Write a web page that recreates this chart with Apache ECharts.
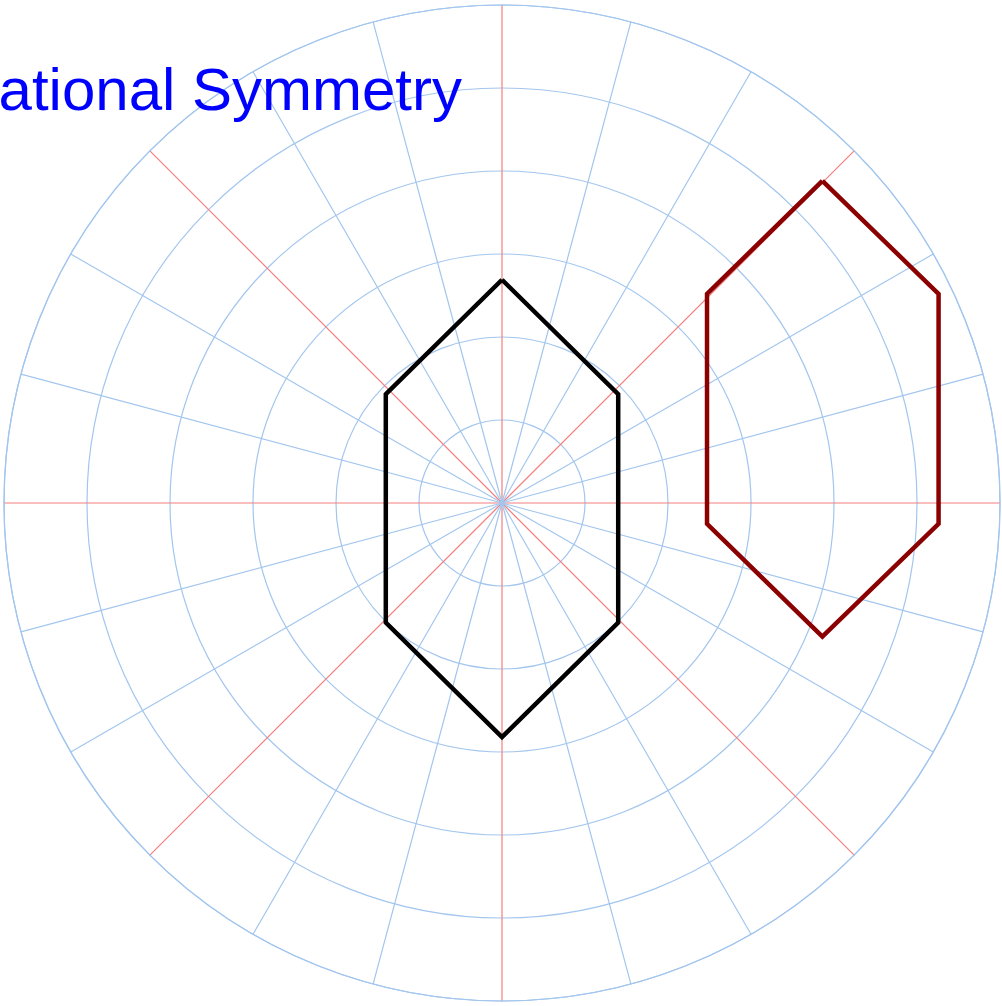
<!DOCTYPE html>
<html>
<head>
<meta charset="utf-8">
<title>Rotational Symmetry</title>
<script src="https://cdn.jsdelivr.net/npm/echarts@6/dist/echarts.min.js"></script>
<style>
  html, body { margin: 0; padding: 0; background: #fff; }
  #chart { width: 1002px; height: 1006px; }
</style>
</head>
<body>
<div id="chart"></div>
<script>
// polar grid: spokes every 15 deg, every 3rd one (45 deg) red, 6 rings
var spokeStep = 15
var spokeColors = ['#f47f7f', '#a3c6ee', '#a3c6ee']
var ringMax = 6

// hexagon vertices, in ring units (centre of the polar grid = 0,0)
var blackX = [0, 1.40, 1.40, 0, -1.40, -1.40, 0]
var blackY = [2.69, 1.31, -1.44, -2.82, -1.44, 1.31, 2.69]
var redX = [3.86, 5.26, 5.26, 3.86, 2.47, 2.47, 3.86]
var redY = [3.88, 2.52, -0.25, -1.61, -0.25, 2.52, 3.88]

var titleText = 'Rotational Symmetry'

var gridBlue = '#a3c6ee'

function pairs(xs, ys) {
  return xs.map(function (x, i) { return [x, ys[i]] })
}

var cx = 502, cy = 503, R = 498

var chart = echarts.init(document.getElementById('chart'))
chart.setOption({
  animation: false,
  backgroundColor: '#fff',
  polar: { center: [cx, cy], radius: R },
  angleAxis: {
    type: 'value',
    min: 0,
    max: 360,
    interval: spokeStep,
    startAngle: 90,
    axisLine: { show: true, lineStyle: { color: gridBlue, width: 1.2 } },
    axisTick: { show: false },
    axisLabel: { show: false },
    splitLine: { show: true, lineStyle: { color: spokeColors, width: 1.2 } }
  },
  radiusAxis: {
    type: 'value',
    min: 0,
    max: ringMax,
    interval: 1,
    axisLine: { show: false },
    axisTick: { show: false },
    axisLabel: { show: false },
    splitLine: { show: true, lineStyle: { color: gridBlue, width: 1.2 } }
  },
  grid: { left: cx - R, top: cy - R, width: 2 * R, height: 2 * R },
  xAxis: { type: 'value', min: -ringMax, max: ringMax, show: false },
  yAxis: { type: 'value', min: -ringMax, max: ringMax, show: false },
  graphic: [
    {
      type: 'text',
      x: 462,
      y: 93,
      z: 10,
      style: {
        text: titleText,
        fill: '#0000ff',
        font: '60px "Liberation Sans", Arial, sans-serif',
        align: 'right',
        verticalAlign: 'middle'
      }
    }
  ],
  series: [
    {
      type: 'line',
      data: pairs(blackX, blackY),
      symbol: 'none',
      z: 5,
      lineStyle: { color: '#000', width: 4.5, join: 'miter' }
    },
    {
      type: 'line',
      data: pairs(redX, redY),
      symbol: 'none',
      z: 5,
      lineStyle: { color: '#8b0000', width: 4.5, join: 'miter' }
    }
  ]
})
</script>
</body>
</html>
